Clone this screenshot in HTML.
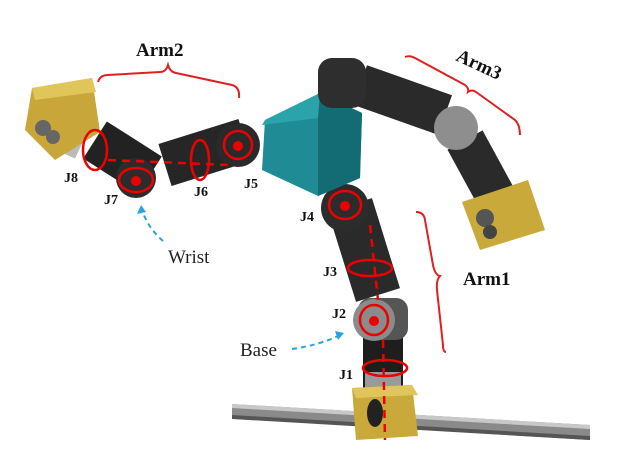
<!DOCTYPE html>
<html><head><meta charset="utf-8"><style>
html,body{margin:0;padding:0;background:#fff;}
svg{display:block;}
text{font-family:"Liberation Serif",serif;}
</style></head><body>
<svg width="624" height="460" viewBox="0 0 624 460" xmlns="http://www.w3.org/2000/svg">
<rect width="624" height="460" fill="#fff"/>
<!-- rail -->
<polygon points="232,404 590,425 590,440 232,418" fill="#8a8a8a"/>
<polygon points="232,404 590,425 590,429 232,408" fill="#c8c8c8"/>
<polygon points="232,415 590,436 590,440 232,419" fill="#555"/>
<!-- arm1 -->
<line x1="383" y1="335" x2="383" y2="390" stroke="#1e1e1e" stroke-width="40"/>
<line x1="383" y1="372" x2="383" y2="392" stroke="#9a9a9a" stroke-width="36"/>
<line x1="350" y1="205" x2="378" y2="295" stroke="#2a2a2a" stroke-width="46"/>
<circle cx="345" cy="208" r="24" fill="#2c2c2c"/>
<rect x="358" y="298" width="50" height="42" rx="12" fill="#555"/>
<circle cx="374" cy="320" r="21" fill="#8b8b8b"/>
<polygon points="352,388 412,385 418,436 356,440" fill="#c9a93a"/>
<polygon points="352,388 412,385 418,395 356,398" fill="#e0c65a"/>
<ellipse cx="375" cy="413" rx="8" ry="14" fill="#222"/>
<!-- cube -->
<polygon points="265,120 320,93 362,113 360,178 318,196 262,170" fill="#1f8c95"/>
<polygon points="320,93 362,113 360,178 318,196 318,118" fill="#136b73"/>
<polygon points="265,120 320,93 318,118 262,125" fill="#2aa3ab"/>
<!-- arm3 -->
<line x1="360" y1="85" x2="445" y2="115" stroke="#2a2a2a" stroke-width="42"/>
<rect x="318" y="58" width="48" height="50" rx="14" fill="#2e2e2e"/>
<line x1="465" y1="140" x2="495" y2="195" stroke="#2a2a2a" stroke-width="40"/>
<circle cx="456" cy="128" r="22" fill="#8e8e8e"/>
<polygon points="462,202 528,180 545,230 480,250" fill="#c9a93a"/>
<circle cx="485" cy="218" r="9" fill="#555"/>
<circle cx="490" cy="232" r="7" fill="#444"/>
<!-- arm2 -->
<line x1="245" y1="140" x2="165" y2="165" stroke="#262626" stroke-width="44"/>
<circle cx="238" cy="145" r="22" fill="#2a2a2a"/>
<line x1="150" y1="175" x2="95" y2="140" stroke="#222" stroke-width="44"/>
<circle cx="136" cy="178" r="20" fill="#2c2c2c"/>
<rect x="72" y="118" width="12" height="40" fill="#bbb" transform="rotate(25 78 138)"/>
<polygon points="32,88 92,78 100,132 55,160 25,130" fill="#c8a63a"/>
<polygon points="32,88 92,78 96,92 35,100" fill="#e0c65a"/>
<circle cx="43" cy="128" r="8" fill="#666"/>
<circle cx="53" cy="137" r="7" fill="#666"/>
<!-- red joint marks -->
<g fill="none" stroke="#e00" stroke-width="2.5">
<ellipse cx="345" cy="205" rx="16" ry="14"/>
<ellipse cx="370" cy="268" rx="22" ry="8"/>
<ellipse cx="374" cy="320" rx="14" ry="15"/>
<ellipse cx="385" cy="368" rx="22" ry="8"/>
<ellipse cx="238" cy="145" rx="14" ry="14"/>
<ellipse cx="200" cy="160" rx="9" ry="20"/>
<ellipse cx="136" cy="180" rx="17" ry="12"/>
<ellipse cx="95" cy="150" rx="12" ry="20"/>
<line x1="370" y1="225" x2="378" y2="300" stroke-dasharray="8 6"/>
<line x1="383" y1="340" x2="385" y2="440" stroke-dasharray="8 6"/>
<line x1="108" y1="160" x2="230" y2="165" stroke-dasharray="8 6"/>
</g>
<g fill="#e00"><circle cx="345" cy="206" r="5"/><circle cx="374" cy="321" r="5"/><circle cx="238" cy="146" r="5"/><circle cx="136" cy="181" r="5"/></g>
<!-- brackets -->
<g fill="none" stroke="#e02020" stroke-width="2">
<path d="M98,82 Q100,75 108,75 L160,72 Q166,72 168,65 Q170,72 176,73 L232,85 Q240,87 239,98"/>
<path d="M405,57 Q410,55 415,58 L465,85 Q469,88 468,92 Q472,89 476,92 L515,120 Q520,125 520,135"/>
<path d="M416,212 Q424,212 425,220 L433,265 Q435,275 440,276 Q436,280 437,290 L443,345 Q443,352 446,352"/>
</g>
<!-- blue arrows -->
<g fill="none" stroke="#29a3de" stroke-width="2" stroke-dasharray="5 4">
<path d="M163,241 Q148,228 142,210"/>
<path d="M292,349 Q320,345 340,335"/>
</g>
<polygon points="141,205 137,214 146,212" fill="#29a3de"/>
<polygon points="344,333 335,331 338,340" fill="#29a3de"/>
<!-- labels -->
<g font-weight="bold" font-size="14" fill="#111">
<text x="64" y="182">J8</text>
<text x="104" y="204">J7</text>
<text x="194" y="196">J6</text>
<text x="244" y="188">J5</text>
<text x="300" y="221">J4</text>
<text x="323" y="276">J3</text>
<text x="332" y="318">J2</text>
<text x="339" y="379">J1</text>
</g>
<g font-weight="bold" font-size="19" fill="#111">
<text x="136" y="56">Arm2</text>
<text x="463" y="285">Arm1</text>
<text x="455" y="60" transform="rotate(25 455 60)">Arm3</text>
</g>
<g font-size="19" fill="#222">
<text x="168" y="263">Wrist</text>
<text x="240" y="356">Base</text>
</g>
</svg>
</body></html>
